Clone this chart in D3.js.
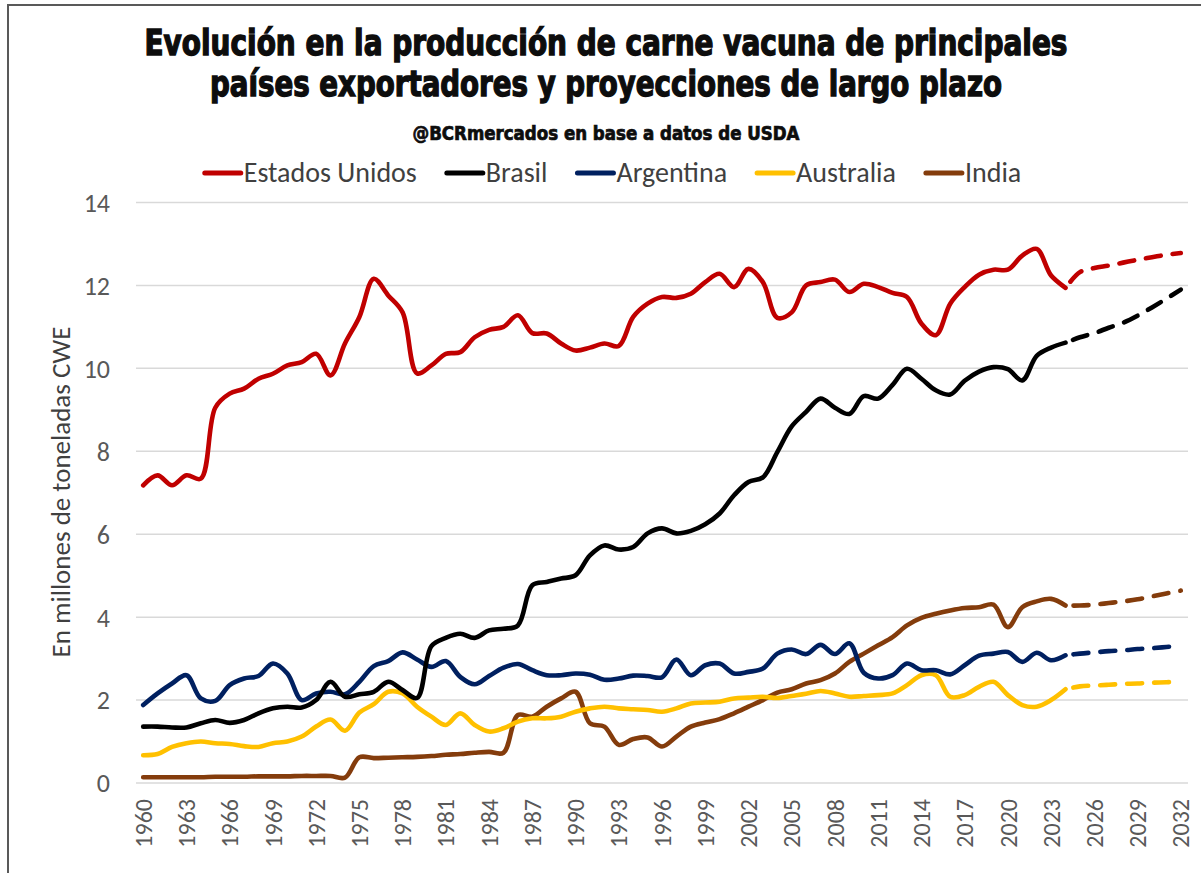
<!DOCTYPE html>
<meta charset="utf-8">
<style>
  body { margin: 0; background: #ffffff; }
  svg { display: block; }
  .tick-lbl { font-family: "Carlito", "Open Sans", sans-serif; fill: #595959; }
  .title { font-family: "Liberation Sans Narrow", "DejaVu Sans Condensed", sans-serif; font-weight: bold; fill: #0d0d0d; stroke: #0d0d0d; }
  .legend-lbl { font-family: "Carlito", "Liberation Sans Narrow", "Open Sans", sans-serif; fill: #404040; }
</style>
<body>
<script src="https://cdn.jsdelivr.net/npm/d3@7"></script>
<script>

// years of history (1960-2024) and projection (2024-2032)
var years = d3.range(1960, 2033);
var histYears = d3.range(1960, 2025);
var projYears = d3.range(2024, 2033);
var tickYears = d3.range(1960, 2033, 3);
var yTicks = [0, 2, 4, 6, 8, 10, 12, 14];

var seriesNames = ["Estados Unidos", "Brasil", "Argentina", "Australia", "India"];
var seriesColors = ["#c00000", "#000000", "#002060", "#ffc000", "#843c0c"];

// millones de toneladas, 1960-2024
var usaHist = [7.18, 7.42, 7.18, 7.42, 7.34, 9.05, 9.39, 9.51, 9.75, 9.87,
  10.07, 10.15, 10.35, 9.83, 10.6, 11.24, 12.16, 11.76, 11.35, 9.88,
  10.07, 10.35, 10.39, 10.75, 10.93, 11.0, 11.28, 10.85, 10.84, 10.6,
  10.43, 10.5, 10.6, 10.54, 11.24, 11.56, 11.72, 11.7, 11.8, 12.08,
  12.28, 11.96, 12.4, 12.08, 11.22, 11.35, 12.0, 12.08, 12.14, 11.84,
  12.04, 11.96, 11.82, 11.72, 11.08, 10.8, 11.56, 11.96, 12.26, 12.38,
  12.38, 12.72, 12.88, 12.24, 11.94];
var braHist = [1.36, 1.36, 1.34, 1.34, 1.44, 1.52, 1.45, 1.52, 1.68, 1.8,
  1.84, 1.82, 2.0, 2.44, 2.08, 2.14, 2.2, 2.44, 2.24, 2.05,
  3.3, 3.5, 3.6, 3.5, 3.68, 3.72, 3.8, 4.77, 4.85, 4.93,
  5.01, 5.49, 5.73, 5.63, 5.69, 6.02, 6.14, 6.02, 6.08, 6.24,
  6.5, 6.94, 7.26, 7.37, 7.98, 8.6, 8.95, 9.27, 9.05, 8.9,
  9.33, 9.27, 9.6, 9.99, 9.75, 9.47, 9.37, 9.7, 9.92, 10.03,
  9.98, 9.71, 10.3, 10.5, 10.62];
var argHist = [1.88, 2.16, 2.4, 2.6, 2.04, 1.98, 2.36, 2.52, 2.58, 2.88,
  2.64, 2.0, 2.16, 2.2, 2.14, 2.44, 2.82, 2.94, 3.15, 2.98,
  2.8, 2.94, 2.56, 2.38, 2.58, 2.78, 2.87, 2.72, 2.6, 2.6,
  2.64, 2.61, 2.49, 2.52, 2.59, 2.58, 2.55, 2.98, 2.6, 2.84,
  2.88, 2.64, 2.68, 2.76, 3.12, 3.22, 3.11, 3.33, 3.11, 3.37,
  2.66, 2.52, 2.6, 2.88, 2.72, 2.72, 2.62, 2.84, 3.07, 3.12,
  3.16, 2.92, 3.14, 2.96, 3.08];
var ausHist = [0.67, 0.7, 0.87, 0.96, 1.0, 0.96, 0.94, 0.89, 0.87, 0.96,
  1.0, 1.12, 1.36, 1.53, 1.26, 1.7, 1.9, 2.2, 2.16, 1.84,
  1.6, 1.4, 1.68, 1.4, 1.24, 1.32, 1.48, 1.56, 1.56, 1.6,
  1.72, 1.8, 1.84, 1.8, 1.78, 1.76, 1.72, 1.8, 1.92, 1.94,
  1.96, 2.04, 2.06, 2.08, 2.05, 2.1, 2.15, 2.22, 2.16, 2.08,
  2.1, 2.12, 2.16, 2.36, 2.6, 2.6, 2.08, 2.12, 2.32, 2.44,
  2.12, 1.88, 1.84, 2.0, 2.26];
var indHist = [0.14, 0.14, 0.14, 0.14, 0.14, 0.15, 0.15, 0.15, 0.16, 0.16,
  0.16, 0.17, 0.17, 0.17, 0.13, 0.62, 0.6, 0.61, 0.62, 0.63,
  0.65, 0.68, 0.7, 0.73, 0.75, 0.73, 1.64, 1.6, 1.84, 2.04,
  2.2, 1.44, 1.36, 0.92, 1.06, 1.1, 0.88, 1.12, 1.36, 1.46,
  1.54, 1.68, 1.84, 2.0, 2.18, 2.26, 2.4, 2.48, 2.64, 2.92,
  3.12, 3.32, 3.52, 3.8, 3.98, 4.08, 4.16, 4.22, 4.24, 4.3,
  3.76, 4.24, 4.38, 4.44, 4.28];

// proyecciones 2025-2032
var usaProj = [12.32, 12.42, 12.48, 12.55, 12.62, 12.68, 12.74, 12.78];
var braProj = [10.75, 10.85, 10.98, 11.1, 11.27, 11.47, 11.68, 11.9];
var argProj = [3.12, 3.15, 3.18, 3.2, 3.23, 3.25, 3.28, 3.31];
var ausProj = [2.33, 2.35, 2.37, 2.39, 2.4, 2.42, 2.43, 2.45];
var indProj = [4.28, 4.3, 4.34, 4.38, 4.43, 4.5, 4.57, 4.64];

var hist = [usaHist, braHist, argHist, ausHist, indHist];
var proj = [usaProj, braProj, argProj, ausProj, indProj];

var W = 1201, H = 873;
var plot = {left: 136, right: 1188, top: 202.5, bottom: 783};

var svg = d3.select("body").append("svg")
  .attr("width", W)
  .attr("height", H);

// outer frame (only top and left edges visible)
svg.append("rect")
  .attr("x", 8).attr("y", 5)
  .attr("width", W + 20).attr("height", H + 20)
  .attr("fill", "#ffffff")
  .attr("stroke", "#595959")
  .attr("stroke-width", 2);

var x = d3.scalePoint()
  .domain(years)
  .range([plot.left, plot.right])
  .padding(0.5);

var y = d3.scaleLinear()
  .domain([0, 14])
  .range([plot.bottom, plot.top]);

// gridlines
svg.append("g")
  .selectAll("line")
  .data(yTicks)
  .enter().append("line")
  .attr("x1", plot.left)
  .attr("x2", plot.right)
  .attr("y1", function(d) { return y(d); })
  .attr("y2", function(d) { return y(d); })
  .attr("stroke", "#d9d9d9")
  .attr("stroke-width", 1.5);

// y axis labels
svg.append("g")
  .selectAll("text")
  .data(yTicks)
  .enter().append("text")
  .attr("class", "tick-lbl")
  .attr("x", 110)
  .attr("y", function(d) { return y(d); })
  .attr("dy", "0.36em")
  .attr("text-anchor", "end")
  .style("font-size", "26px")
  .text(function(d) { return d; });

// x axis labels, rotated
svg.append("g")
  .selectAll("text")
  .data(tickYears)
  .enter().append("text")
  .attr("class", "tick-lbl")
  .attr("transform", function(d) { return "translate(" + x(d) + ",799) rotate(-90)"; })
  .attr("dy", "0.36em")
  .attr("text-anchor", "end")
  .style("font-size", "24px")
  .text(function(d) { return d; });

// axis title
svg.append("text")
  .attr("class", "tick-lbl")
  .attr("transform", "translate(60,492) rotate(-90)")
  .attr("dy", "0.36em")
  .attr("text-anchor", "middle")
  .style("font-size", "27px")
  .style("fill", "#404040")
  .text("En millones de toneladas CWE");

var line = d3.line()
  .x(function(d) { return x(d.year); })
  .y(function(d) { return y(d.value); })
  .curve(d3.curveCatmullRom.alpha(0.5));

// draw history (solid) and projection (dashed)
var order = [4, 3, 2, 1, 0];
order.forEach(function(i) {
  var h = histYears.map(function(yr, k) { return {year: yr, value: hist[i][k]}; });
  var p = projYears.map(function(yr, k) {
    return {year: yr, value: k === 0 ? hist[i][hist[i].length - 1] : proj[i][k - 1]};
  });
  svg.append("path")
    .datum(h)
    .attr("d", line)
    .attr("fill", "none")
    .attr("stroke", seriesColors[i])
    .attr("stroke-width", 4.6)
    .attr("stroke-linejoin", "round")
    .attr("stroke-linecap", "round");
  svg.append("path")
    .datum(p)
    .attr("d", line)
    .attr("fill", "none")
    .attr("stroke", seriesColors[i])
    .attr("stroke-width", 4.6)
    .attr("stroke-dasharray", "15,12")
    .attr("stroke-dashoffset", -8)
    .attr("stroke-linecap", "round");
});

// titles
svg.append("text")
  .attr("class", "title")
  .attr("x", 606).attr("y", 55)
  .attr("text-anchor", "middle")
  .attr("textLength", 923)
  .attr("lengthAdjust", "spacingAndGlyphs")
  .style("font-size", "35px")
  .style("stroke-width", 1.3)
  .text("Evolución en la producción de carne vacuna de principales");

svg.append("text")
  .attr("class", "title")
  .attr("x", 606).attr("y", 96)
  .attr("text-anchor", "middle")
  .attr("textLength", 792)
  .attr("lengthAdjust", "spacingAndGlyphs")
  .style("font-size", "35px")
  .style("stroke-width", 1.3)
  .text("países exportadores y proyecciones de largo plazo");

svg.append("text")
  .attr("class", "title")
  .attr("x", 606).attr("y", 140)
  .attr("text-anchor", "middle")
  .attr("textLength", 387)
  .attr("lengthAdjust", "spacingAndGlyphs")
  .style("font-size", "19px")
  .style("stroke-width", 0.7)
  .text("@BCRmercados en base a datos de USDA");

// legend
var legend = svg.append("g");
var lx = 0;
seriesNames.forEach(function(name, i) {
  var g = legend.append("g").attr("transform", "translate(" + lx + ",0)");
  g.append("line")
    .attr("x1", 2).attr("x2", 38)
    .attr("y1", 173).attr("y2", 173)
    .attr("stroke", seriesColors[i])
    .attr("stroke-width", 5)
    .attr("stroke-linecap", "round");
  var t = g.append("text")
    .attr("class", "legend-lbl")
    .attr("x", 41).attr("y", 182)
    .style("font-size", "28px")
    .text(name);
  lx += 41 + t.node().getComputedTextLength() + 28;
});
var legendWidth = lx - 28;
legend.attr("transform", "translate(" + (612 - legendWidth / 2) + ",0)");

</script>
</body>
